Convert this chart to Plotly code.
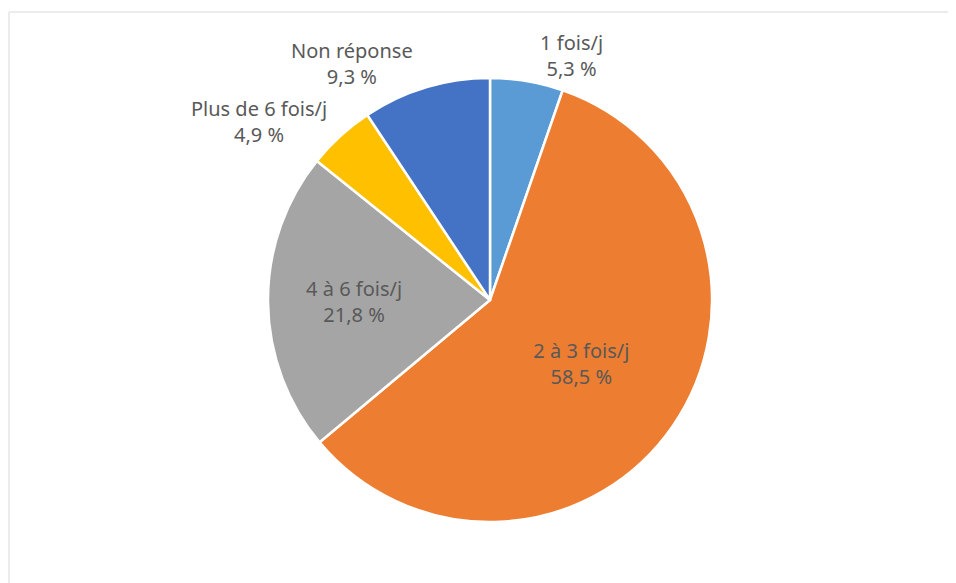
import plotly.graph_objects as go

# Data
labels = ["1 fois/j", "2 à 3 fois/j", "4 à 6 fois/j", "Plus de 6 fois/j", "Non réponse"]
values = [5.3, 58.5, 21.8, 4.9, 9.3]
colors = ["#5B9BD5", "#ED7D31", "#A5A5A5", "#FFC000", "#4472C4"]
text_pos = ["outside", "inside", "inside", "outside", "outside"]

W, H = 948, 575   # page adds an 8px body margin

fig = go.Figure()

fig.add_trace(go.Pie(
    labels=labels,
    values=values,
    sort=False,
    direction="clockwise",
    rotation=0,
    marker=dict(colors=colors, line=dict(color="white", width=2.5)),
    textposition=text_pos,
    texttemplate="%{label}<br>%{value:.1f} %",
    textfont=dict(family="Noto Sans", size=20, color="#595959"),
    insidetextorientation="horizontal",
    showlegend=False,
    hoverinfo="label+value",
    domain=dict(x=[260 / W, 704 / W], y=[61 / H, 505 / H]),
))

# Chart frame
fig.add_shape(
    type="rect", xref="paper", yref="paper",
    x0=1 / W, x1=1.02, y0=-0.02, y1=1 - 4 / H,
    line=dict(color="#D9D9D9", width=1),
)

fig.update_layout(
    width=W,
    height=H,
    margin=dict(l=0, r=0, t=0, b=0),
    paper_bgcolor="white",
    plot_bgcolor="white",
    separators=", ",
)

fig.write_html("out.html")
